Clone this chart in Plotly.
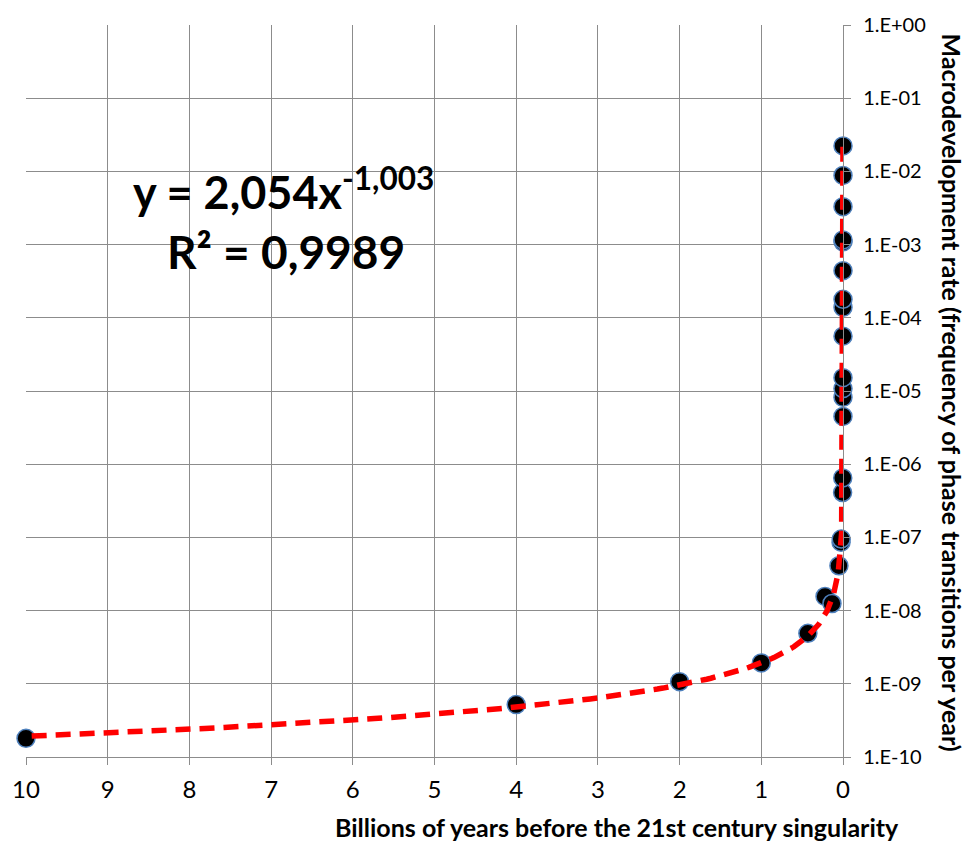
import numpy as np
import plotly.graph_objects as go

# Data: billions of years before singularity, macrodevelopment rate (per year)
x_billion = [10, 4, 2, 1, 0.43, 0.22, 0.135, 0.05, 0.024, 0.022, 0.005, 0.0032,
             0.00045, 0.00025, 0.00019, 0.00013, 0.000037, 0.000015, 0.000011,
             0.0000047, 0.0000019, 0.0000018, 0.00000062, 0.00000023, 0.000000093]
rate = [1.8e-10, 5.2e-10, 1.07e-9, 1.93e-9, 4.9e-9, 1.56e-8, 1.25e-8, 4.1e-8, 8.6e-8,
        9.5e-8, 4.1e-7, 6.5e-7, 4.5e-6, 8.2e-6, 1.08e-5, 1.52e-5, 5.6e-5, 1.39e-4,
        1.79e-4, 4.4e-4, 1.09e-3, 1.16e-3, 3.3e-3, 8.8e-3, 2.23e-2]

# Power-law trend shown on the chart (x in years)
fit_a = 2.054
fit_b = -1.003

x_ticks = list(range(0, 11))
y_tickvals = [10.0 ** k for k in range(-10, 1)]
y_ticktext = ["1.E-10", "1.E-09", "1.E-08", "1.E-07", "1.E-06", "1.E-05",
              "1.E-04", "1.E-03", "1.E-02", "1.E-01", "1.E+00"]

trend_x = np.logspace(np.log10(min(x_billion)), np.log10(max(x_billion)), 600)
trend_y = fit_a * (trend_x * 1e9) ** fit_b

FONT = "Lato"
GRID = "#8c8c8c"

fig = go.Figure()
fig.add_trace(go.Scatter(
    x=x_billion, y=rate, mode="markers", cliponaxis=False,
    marker=dict(size=18, color="black", line=dict(color="#4f81bd", width=1.5)),
    showlegend=False, hoverinfo="skip"))
fig.add_trace(go.Scatter(
    x=trend_x, y=trend_y, mode="lines", cliponaxis=False,
    line=dict(color="#ff0000", width=5.5, dash="15px,9px"),
    showlegend=False, hoverinfo="skip"))

W, H = 969, 845
ml, mr, mt, mb = 25, 126, 18, 88
pw, ph = W - ml - mr, H - mt - mb

def px_x(p):
    return (p - ml) / pw

def px_y(p):
    return (H - mb - p) / ph

fig.update_layout(
    width=W, height=H,
    margin=dict(l=ml, r=mr, t=mt, b=mb, pad=0),
    paper_bgcolor="white", plot_bgcolor="white",
    font=dict(family=FONT, color="black"),
    xaxis=dict(range=[10, 0], tickvals=x_ticks, ticktext=[str(v) for v in x_ticks],
               showgrid=True, gridcolor=GRID, gridwidth=1.3,
               showline=True, linecolor=GRID, linewidth=1.3,
               ticks="outside", ticklen=7, tickcolor=GRID, tickwidth=1.3,
               tickfont=dict(size=24, family=FONT), ticklabelstandoff=4,
               zeroline=False, mirror=False),
    yaxis=dict(type="log", range=[-10, 0], side="right",
               tickvals=y_tickvals, ticktext=y_ticktext,
               showgrid=True, gridcolor=GRID, gridwidth=1.3,
               showline=True, linecolor=GRID, linewidth=1.3,
               ticks="outside", ticklen=7, tickcolor=GRID, tickwidth=1.3,
               tickfont=dict(size=20, family=FONT), ticklabelstandoff=8,
               zeroline=False),
)

# white box behind equation
fig.add_shape(type="rect", xref="paper", yref="paper",
              x0=px_x(120), x1=px_x(449), y0=px_y(286), y1=px_y(150),
              fillcolor="white", line=dict(width=0), layer="between")

fig.add_annotation(xref="paper", yref="paper", x=px_x(283), y=px_y(184),
                   text="<b>y = 2,054x<sup>-1,003</sup></b>", showarrow=False,
                   font=dict(size=45, family=FONT, color="black"),
                   xanchor="center", yanchor="middle")
fig.add_annotation(xref="paper", yref="paper", x=px_x(285), y=px_y(247),
                   text="<b>R² = 0,9989</b>", showarrow=False,
                   font=dict(size=46, family=FONT, color="black"),
                   xanchor="center", yanchor="middle")

fig.add_annotation(xref="paper", yref="paper", x=px_x(952), y=px_y(389),
                   text="<b>Macrodevelopment rate (frequency of phase transitions per year)</b>",
                   showarrow=False, textangle=90,
                   font=dict(size=25, family=FONT, color="black"),
                   xanchor="center", yanchor="middle")
fig.add_annotation(xref="paper", yref="paper", x=px_x(901), y=px_y(828),
                   text="<b>Billions of years before the 21st century singularity</b>",
                   showarrow=False,
                   font=dict(size=25, family=FONT, color="black"),
                   xanchor="right", yanchor="middle")

fig.write_html("out.html")
